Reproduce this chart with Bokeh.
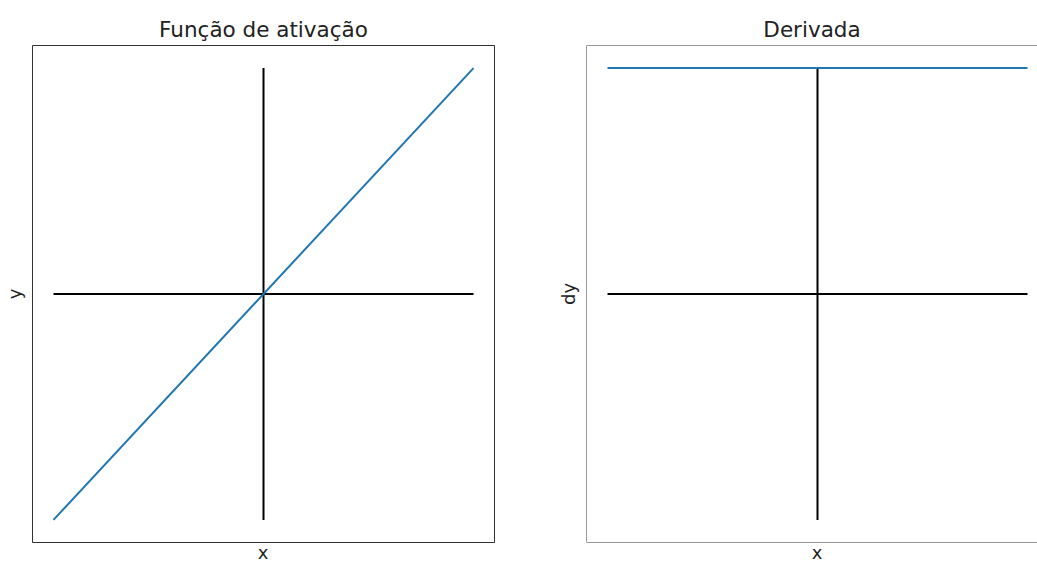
from bokeh.plotting import figure
from bokeh.layouts import row, column
from bokeh.models import Range1d, FixedTicker, Span, Div
from bokeh.embed import file_html
from bokeh.resources import INLINE

# Identity activation and its derivative
x = [-5, 5]
y = [-5, 5]
dy = [1, 1]

titles = ["Função de ativação", "Derivada"]
xlabels = ["x", "x"]
ylabels = ["y", "dy"]

BLUE = "#1f77b4"
FONT = "DejaVu Sans"
TEXT = "#222222"
FRAME_W = 462
FRAME_H = 497
PAD = 0.05  # margin around the data, as a fraction of its span


def padded(lo, hi):
    span = hi - lo
    return lo - PAD * span, hi + PAD * span


def style(p, title, ylabel):
    p.title.text = title
    p.title.align = "center"
    p.title.text_font = FONT
    p.title.text_font_size = "21.5px"
    p.title.text_font_style = "normal"
    p.title.text_color = TEXT
    p.title.standoff = 8
    p.xaxis.visible = False
    ax = p.yaxis[0]
    ax.ticker = FixedTicker(ticks=[])
    ax.axis_line_color = None
    ax.major_tick_line_color = None
    ax.minor_tick_line_color = None
    ax.major_label_text_font_size = "0px"
    ax.axis_label = ylabel
    ax.axis_label_text_font = FONT
    ax.axis_label_text_font_size = "18px"
    ax.axis_label_text_font_style = "normal"
    ax.axis_label_text_color = TEXT
    ax.axis_label_standoff = 8
    p.grid.visible = False
    p.background_fill_color = "white"
    p.border_fill_color = "white"


def xlabel_div(text, width, left_margin):
    return Div(text=text, width=width, height=20, margin=(0, 0, 0, left_margin),
               styles={"font-family": FONT, "font-size": "18px", "line-height": "20px",
                       "text-align": "center", "color": TEXT, "overflow": "hidden"})


# Left panel: the activation function itself
x0, x1 = padded(min(x), max(x))
y0, y1 = padded(min(y), max(y))
left = figure(width=540, height=543, min_border_left=32, min_border_right=46,
              min_border_top=45, min_border_bottom=1,
              x_range=Range1d(x0, x1), y_range=Range1d(y0, y1),
              output_backend="svg", toolbar_location=None)
style(left, titles[0], ylabels[0])
left.outline_line_color = "#333333"
left.outline_line_width = 1
left.line([min(x), max(x)], [0, 0], line_color="black", line_width=2)
left.line([0, 0], [min(y), max(y)], line_color="black", line_width=2)
left.line(x, y, line_color=BLUE, line_width=2)

# Right panel: its derivative (frame runs past the page edge)
RIGHT_VISIBLE_W = 451
dx0, dx1 = padded(min(x), max(x))
dx1_visible = dx0 + (dx1 - dx0) * RIGHT_VISIBLE_W / FRAME_W
dlim = max(abs(v) for v in dy)
dy0, dy1 = padded(-dlim, dlim)
right = figure(width=497, height=543, min_border_left=46, min_border_right=0,
               min_border_top=45, min_border_bottom=1,
               x_range=Range1d(dx0, dx1_visible), y_range=Range1d(dy0, dy1),
               output_backend="svg", toolbar_location=None)
style(right, titles[1], ylabels[1])
right.outline_line_color = None
for loc, dim in ((dx0, "height"), (dy0, "width"), (dy1, "width")):
    right.add_layout(Span(location=loc, dimension=dim, line_color="#333333", line_width=1))
right.line([min(x), max(x)], [0, 0], line_color="black", line_width=2)
right.line([0, 0], [-dlim, dlim], line_color="black", line_width=2)
right.line(x, dy, line_color=BLUE, line_width=2)

# x labels under each frame, centred on the frame
labels = row(xlabel_div(xlabels[0], FRAME_W, 32),
             xlabel_div(xlabels[1], 440, 103), spacing=0)

layout = column(row(left, right, spacing=0), labels, spacing=0)
open("out.html", "w").write(file_html(layout, INLINE))
